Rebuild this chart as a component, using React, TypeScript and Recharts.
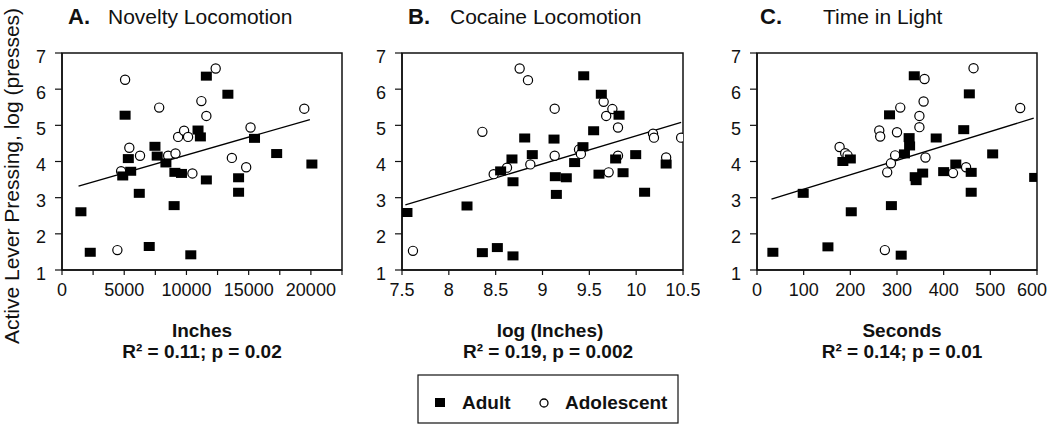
import React from "react";
import {
  ScatterChart,
  Scatter,
  XAxis,
  YAxis,
  ReferenceArea,
  ReferenceLine,
} from "recharts";

const FONT = "'Liberation Sans', Arial, Helvetica, sans-serif";

// ---- Panel A: Novelty Locomotion (Inches) ----
const novAdult: [number, number][] = [
  [1520, 2.61], [2270, 1.49], [5070, 5.28], [5330, 4.08], [5520, 3.73], [4880, 3.6],
  [6210, 3.12], [7010, 1.65], [7470, 4.42], [7650, 4.15], [8350, 3.96], [9010, 2.78],
  [9070, 3.7], [9600, 3.67], [10350, 1.42], [10930, 4.87], [11120, 4.68], [11600, 6.36],
  [11600, 3.49], [13330, 5.86], [14190, 3.55], [14190, 3.15], [15470, 4.64], [17250, 4.22],
  [20080, 3.93],
];
const novAdol: [number, number][] = [
  [5070, 6.26], [4450, 1.55], [4750, 3.73], [5410, 4.38], [6270, 4.16], [7810, 5.49],
  [8530, 4.16], [9120, 4.22], [9330, 4.68], [9810, 4.85], [10130, 4.68], [10480, 3.67],
  [11200, 5.67], [11600, 5.26], [12350, 6.57], [13650, 4.1], [14800, 3.84], [15150, 4.94],
  [19470, 5.46],
];
const novTrend: [number, number][] = [[1330, 3.32], [19920, 5.16]];
const novTicks = [0, 2500, 5000, 7500, 10000, 12500, 15000, 17500, 20000, 22500];
const novLabels = ["0", "", "5000", "", "10000", "", "15000", "", "20000", ""];

// ---- Panel B: Cocaine Locomotion (log Inches) ----
const cocAdult: [number, number][] = [
  [7.553, 2.59], [8.194, 2.77], [8.358, 1.48], [8.518, 1.62], [8.685, 1.39], [8.553, 3.74],
  [8.674, 4.07], [8.685, 3.44], [8.81, 4.65], [8.891, 4.19], [9.123, 4.62], [9.137, 3.58],
  [9.148, 3.09], [9.254, 3.55], [9.343, 3.97], [9.432, 4.41], [9.44, 6.37], [9.546, 4.85],
  [9.603, 3.65], [9.628, 5.86], [9.781, 4.07], [9.817, 5.28], [9.86, 3.69], [9.995, 4.19],
  [10.09, 3.15], [10.32, 3.93],
];
const cocAdol: [number, number][] = [
  [7.617, 1.53], [8.358, 4.82], [8.479, 3.65], [8.621, 3.83], [8.756, 6.57], [8.845, 6.25],
  [8.87, 3.92], [9.13, 5.46], [9.13, 4.16], [9.39, 4.33], [9.41, 4.21], [9.653, 5.65],
  [9.68, 5.26], [9.746, 5.45], [9.806, 4.94], [9.806, 4.16], [9.706, 3.7], [10.18, 4.77],
  [10.19, 4.66], [10.32, 4.11], [10.48, 4.66],
];
const cocTrend: [number, number][] = [[7.536, 2.8], [10.48, 5.08]];
const cocTicks = [7.5, 8, 8.5, 9, 9.5, 10, 10.5];
const cocLabels = ["7.5", "8", "8.5", "9", "9.5", "10", "10.5"];

// ---- Panel C: Time in Light (Seconds) ----
const lightAdult: [number, number][] = [
  [34, 1.49], [99, 3.12], [152, 1.64], [184, 4.0], [200, 4.07], [202, 2.61], [284, 5.29],
  [288, 2.78], [309, 1.41], [316, 4.21], [327, 4.43], [326, 4.66], [337, 6.37], [339, 3.58],
  [341, 3.47], [355, 3.68], [384, 4.65], [400, 3.72], [426, 3.93], [443, 4.88], [455, 5.87],
  [459, 3.7], [459, 3.15], [505, 4.21], [595, 3.56],
];
const lightAdol: [number, number][] = [
  [177, 4.4], [189, 4.23], [194, 4.17], [262, 4.86], [264, 4.69], [274, 1.55], [279, 3.7],
  [287, 3.95], [296, 4.17], [300, 4.81], [307, 5.49], [348, 5.26], [348, 4.95], [357, 5.66],
  [359, 6.28], [361, 4.11], [420, 3.68], [448, 3.84], [464, 6.58], [564, 5.48],
];
const lightTrend: [number, number][] = [[31, 2.96], [593, 5.2]];
const lightTicks = [0, 100, 200, 300, 400, 500, 600];
const lightLabels = ["0", "100", "200", "300", "400", "500", "600"];

// ---- shared ----
const yTicks = [1, 2, 3, 4, 5, 6, 7];
const yLabels = ["1", "2", "3", "4", "5", "6", "7"];

const toPts = (arr: [number, number][]) => arr.map(([x, y]) => ({ x, y }));

const Square = (p: any) => (
  <rect x={p.cx - 5.5} y={p.cy - 4.5} width={11} height={9} fill="#000" />
);
const Ring = (p: any) => (
  <circle cx={p.cx} cy={p.cy} r={4.6} fill="#fff" stroke="#000" strokeWidth={1.2} />
);

type PanelProps = {
  left: number;
  width: number;
  marginRight: number;
  domain: [number, number];
  ticks: number[];
  labels: string[];
  adult: [number, number][];
  adol: [number, number][];
  trend: [number, number][];
  yMargin: number;
};

function Panel(props: PanelProps) {
  const { left, width, marginRight, domain, ticks, labels, adult, adol, trend, yMargin } = props;
  const XTick = (p: any) => {
    const i = ticks.indexOf(p.payload.value);
    const lab = i >= 0 ? labels[i] : "";
    if (!lab) return <g />;
    let x = p.x;
    const absRight = left + x + lab.length * 5;
    if (absRight > 1047) x -= absRight - 1047;
    return (
      <text x={x} y={p.y} dy={13} textAnchor="middle" fontSize={18} fontFamily={FONT} fill="#111">
        {lab}
      </text>
    );
  };
  const YTick = (p: any) => {
    const i = yTicks.indexOf(p.payload.value);
    return (
      <text x={p.x} y={p.y} dy={9.5} textAnchor="end" fontSize={18} fontFamily={FONT} fill="#111">
        {i >= 0 ? yLabels[i] : ""}
      </text>
    );
  };
  return (
    <div style={{ position: "absolute", left, top: 0, width, height: 320 }}>
      <ScatterChart
        width={width}
        height={320}
        margin={{ top: 53, right: marginRight, bottom: 20, left: 0 }}
      >
        <XAxis
          type="number"
          dataKey="x"
          domain={domain}
          ticks={ticks}
          interval={0}
          allowDataOverflow
          height={30}
          tickSize={5}
          tickMargin={8}
          axisLine={{ stroke: "#111", strokeWidth: 1.5 }}
          tickLine={{ stroke: "#111", strokeWidth: 1.2 }}
          tick={XTick}
        />
        <YAxis
          type="number"
          dataKey="y"
          domain={[1, 7]}
          ticks={yTicks}
          interval={0}
          allowDataOverflow
          width={62}
          tickSize={7}
          tickMargin={yMargin}
          axisLine={{ stroke: "#111", strokeWidth: 1.5 }}
          tickLine={{ stroke: "#111", strokeWidth: 1.2 }}
          tick={YTick}
        />
        <ReferenceArea
          x1={domain[0]}
          x2={domain[1]}
          y1={1}
          y2={7}
          fill="none"
          fillOpacity={0}
          stroke="#111"
          strokeWidth={1.5}
          ifOverflow="visible"
        />
        <ReferenceLine
          segment={[
            { x: trend[0][0], y: trend[0][1] },
            { x: trend[1][0], y: trend[1][1] },
          ]}
          stroke="#000"
          strokeWidth={1.3}
          ifOverflow="visible"
        />
        <Scatter data={toPts(adol)} shape={Ring} isAnimationActive={false} />
        <Scatter data={toPts(adult)} shape={Square} isAnimationActive={false} />
      </ScatterChart>
    </div>
  );
}

export default function App() {
  const bold = { fontFamily: FONT, fontWeight: 700, fill: "#111" } as const;
  const reg = { fontFamily: FONT, fill: "#111" } as const;
  return (
    <div
      style={{
        position: "absolute",
        left: 0,
        top: 0,
        width: 1050,
        height: 425,
        background: "#fff",
        overflow: "hidden",
      }}
    >
      <svg width={1050} height={425} style={{ position: "absolute", left: 0, top: 0 }}>
        {/* titles */}
        <text x={68} y={24} fontSize={22} {...bold}>A.</text>
        <text x={108} y={24} fontSize={21} {...reg}>Novelty Locomotion</text>
        <text x={408} y={24} fontSize={22} {...bold}>B.</text>
        <text x={450} y={24} fontSize={21} {...reg}>Cocaine Locomotion</text>
        <text x={760} y={24} fontSize={22} {...bold}>C.</text>
        <text x={823} y={24} fontSize={21} {...reg}>Time in Light</text>

        {/* y label */}
        <text
          x={19}
          y={176}
          transform="rotate(-90 19 176)"
          textAnchor="middle"
          fontSize={21}
          {...reg}
        >
          Active Lever Pressing, log (presses)
        </text>

        {/* x labels */}
        <text x={202} y={337} textAnchor="middle" fontSize={19} {...bold}>Inches</text>
        <text x={202} y={358} textAnchor="middle" fontSize={19} {...bold}>R² = 0.11; p = 0.02</text>
        <text x={550} y={337} textAnchor="middle" fontSize={19} {...bold}>log (Inches)</text>
        <text x={548} y={358} textAnchor="middle" fontSize={19} {...bold}>R² = 0.19, p = 0.002</text>
        <text x={902} y={337} textAnchor="middle" fontSize={19} {...bold}>Seconds</text>
        <text x={902} y={358} textAnchor="middle" fontSize={19} {...bold}>R² = 0.14; p = 0.01</text>

        {/* legend */}
        <rect x={418} y={375} width={260} height={48} fill="none" stroke="#111" strokeWidth={1.2} />
        <rect x={435} y={398} width={10} height={9} fill="#000" />
        <text x={462} y={409} fontSize={19} {...bold}>Adult</text>
        <circle cx={544} cy={403} r={4} fill="#fff" stroke="#000" strokeWidth={1.3} />
        <text x={565} y={409} fontSize={19} {...bold}>Adolescent</text>
      </svg>

      <Panel
        left={0}
        width={360}
        marginRight={18}
        domain={[0, 22500]}
        ticks={novTicks}
        labels={novLabels}
        adult={novAdult}
        adol={novAdol}
        trend={novTrend}
        yMargin={9}
      />
      <Panel
        left={340}
        width={360}
        marginRight={17}
        domain={[7.5, 10.5]}
        ticks={cocTicks}
        labels={cocLabels}
        adult={cocAdult}
        adol={cocAdol}
        trend={cocTrend}
        yMargin={9}
      />
      <Panel
        left={695}
        width={360}
        marginRight={18}
        domain={[0, 600]}
        ticks={lightTicks}
        labels={lightLabels}
        adult={lightAdult}
        adol={lightAdol}
        trend={lightTrend}
        yMargin={9}
      />
    </div>
  );
}
